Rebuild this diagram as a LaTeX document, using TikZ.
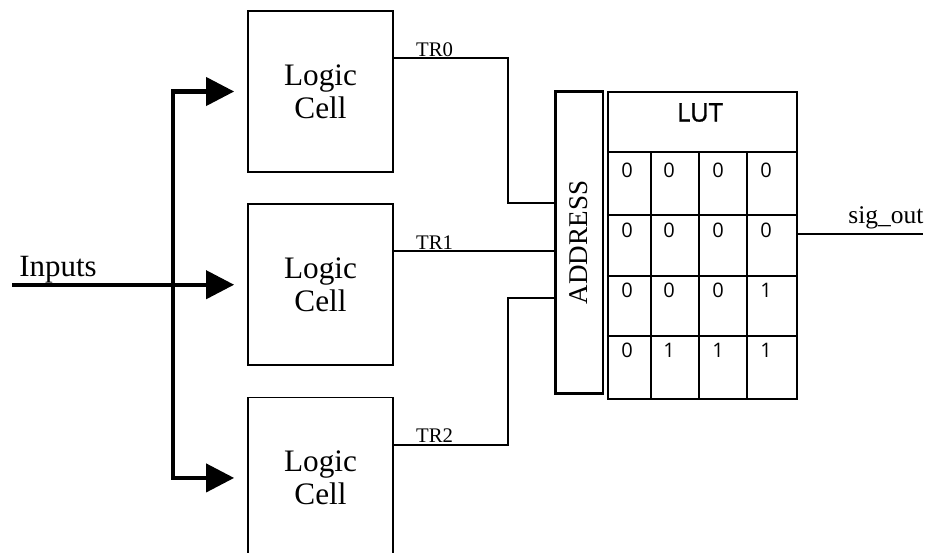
\documentclass[tikz,border=0pt]{standalone}
\usepackage{fontspec}
\setmainfont{Liberation Serif}
\newfontfamily\lutfont{Open Sans}
\newfontfamily\lutheadfont[FakeBold=1.2]{Open Sans}
\usepackage{tikz}
\usetikzlibrary{positioning,arrows.meta,calc}
\tikzset{
  cellbox/.style={draw,line width=1pt,minimum width=2.9cm,minimum height=3.22cm,align=center,font=\fontsize{17.8}{19}\selectfont},
  addrbox/.style={draw,line width=1.7pt,rotate=90,minimum width=6.06cm,minimum height=0.96cm,font=\fontsize{15.4}{17}\selectfont},
  lutbox/.style={draw,line width=1.3pt,minimum width=3.78cm,minimum height=6.14cm},
  bus/.style={line width=2.3pt,-{Triangle[length=0.56cm,width=0.56cm]},shorten >=0.26cm},
  wire/.style={line width=1.1pt},
  lutline/.style={line width=1.3pt},
  lbl/.style={inner sep=0pt,anchor=base west},
  bit/.style={inner sep=0pt,anchor=base west,font=\lutfont\fontsize{11.4}{13}\selectfont}
}
\begin{document}
\begin{tikzpicture}[x=0.02cm,y=-0.02cm,node distance=0.61cm]
\useasboundingbox (0,0) rectangle (927,552);
\node[cellbox] (cell1) at (320.5,91.5) {Logic\\Cell};
\node[cellbox, below=of cell1] (cell2) {Logic\\Cell};
\node[cellbox, below=of cell2] (cell3) {Logic\\Cell};

\node[addrbox] (addr) at (579,242.5) {ADDRESS};
\node[lutbox] (lut) at (702.5,245.5) {};
\node[inner sep=0pt,font=\lutheadfont\fontsize{14.6}{16}\selectfont] (luthead) at (700,112.5) {LUT};
\foreach \y in {152,215,276,336}
  \draw[lutline] (lut.west |- 0,\y) -- (lut.east |- 0,\y);
\foreach \x in {651,699,747}
  \draw[lutline] (\x,152) -- (lut.south -| \x,0);
\foreach \y/\a/\b/\c/\d in {177/0/0/0/0,237/0/0/0/0,297/0/0/0/1,357/0/1/1/1}{
  \node[bit] (b\y a) at (621,\y) {\a};
  \node[bit] (b\y b) at (663,\y) {\b};
  \node[bit] (b\y c) at (712,\y) {\c};
  \node[bit] (b\y d) at (760,\y) {\d};
}

\coordinate (in) at (cell2.west -| 12,0);
\coordinate (split) at (cell2.west -| 173,0);
\node[lbl,font=\fontsize{17.6}{19}\selectfont] (inlbl) at (19,276) {Inputs};
\draw[bus] (in) -- (cell2.west);
\draw[bus] (split) |- (cell1.west);
\draw[bus] (split) |- (cell3.west);

\coordinate (tr0) at ([yshift=-0.96cm]cell1.north east);
\coordinate (tr1) at ([yshift=-0.96cm]cell2.north east);
\coordinate (tr2) at ([yshift=-0.96cm]cell3.north east);
\coordinate (bend) at (508,0);
\coordinate (a0) at (addr.north |- 0,203);
\coordinate (a2) at (addr.north |- 0,298);
\draw[wire] (tr0) -| (bend |- a0) -- (a0);
\draw[wire] (tr1) -- (tr1 -| addr.north);
\draw[wire] (tr2) -| (bend |- a2) -- (a2);
\node[lbl,font=\fontsize{11.8}{13}\selectfont] (tr0lbl) at ([xshift=0.44cm,yshift=0.04cm]tr0) {TR0};
\node[lbl,font=\fontsize{11.8}{13}\selectfont] (tr1lbl) at ([xshift=0.44cm,yshift=0.04cm]tr1) {TR1};
\node[lbl,font=\fontsize{11.8}{13}\selectfont] (tr2lbl) at ([xshift=0.44cm,yshift=0.04cm]tr2) {TR2};

\coordinate (sig) at (923,234);
\draw[wire] (lut.east |- sig) -- (sig);
\node[lbl,font=\fontsize{14.5}{16}\selectfont] (siglbl) at (848,223) {sig\_out};
\end{tikzpicture}
\end{document}
